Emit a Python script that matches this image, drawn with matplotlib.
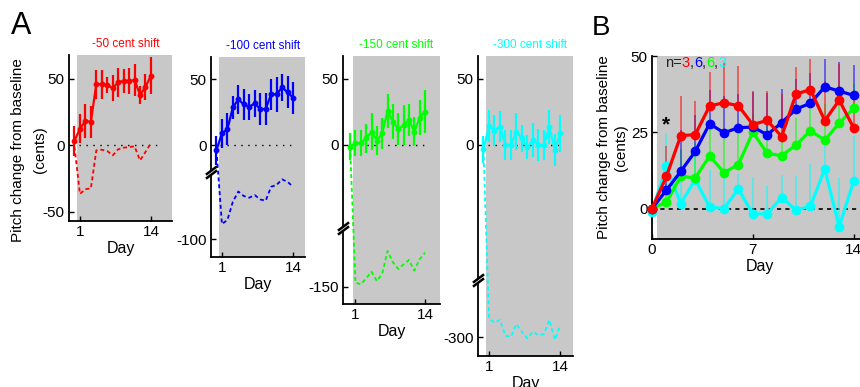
import numpy as np
import matplotlib
matplotlib.use("Agg")
import matplotlib.pyplot as plt
import matplotlib.transforms as mtrans

plt.rcParams['font.family'] = ['Liberation Sans', 'DejaVu Sans']
plt.rcParams['xtick.direction'] = 'in'
plt.rcParams['ytick.direction'] = 'in'
plt.rcParams['xtick.major.size'] = 3.5
plt.rcParams['ytick.major.size'] = 3.5
plt.rcParams['axes.linewidth'] = 1.3

# ---------------- data (panel A) ----------------
days = list(range(0, 15))

shift_titles = ["-50 cent shift", "-100 cent shift", "-150 cent shift", "-300 cent shift"]
colors = ["#ff0000", "#0000ff", "#00ff00", "#00ffff"]

red_mean = [3.3, 12.6, 18.2, 17.7, 46.0, 46.0, 45.5, 43.0, 47.5, 48.5, 48.5, 49.0, 38.0, 44.0, 52.5]
red_err = [11, 11, 13, 12, 11, 11, 6, 10, 11, 9, 10, 12, 7, 10, 14]
red_heard = [-1, -36.6, -33.0, -32.5, -3.8, -3.3, -4.3, -7.6, -3.0, -1.8, -1.3, -0.8, -11.4, -5.0, 1.8]

blue_mean = [-3.8, 8.8, 12.0, 28.5, 34.6, 30.8, 29.0, 31.6, 27.3, 27.3, 38.4, 38.4, 43.7, 40.0, 35.9]
blue_err = [11, 11, 12, 9, 11, 12, 10, 10, 12, 12, 12, 13, 10, 12, 12]
blue_heard = [-3.8, -88.6, -85.6, -71.7, -64.0, -67.4, -68.7, -66.7, -70.0, -71.0, -60.4, -59.0, -54.8, -56.6, -60.4]

green_mean = [-1.3, 1.3, 1.3, 5.0, 10.0, 3.3, 8.8, 25.8, 17.7, 11.9, 15.0, 19.0, 10.0, 20.7, 25.3]
green_err = [10, 10, 10, 11, 14, 11, 12, 13, 13, 12, 15, 12, 11, 13, 16]
green_heard = [-1.3, -146.7, -148.0, -143.4, -138.4, -145.5, -140.0, -122.7, -131.3, -136.4, -132.8, -129.5, -137.6, -129.0, -124.0]

cyan_mean = [-3.3, 14.4, 10.9, 13.9, 0.0, 0.0, 10.0, 5.0, -1.8, 3.8, 0.0, 0.0, 13.4, -3.8, 8.8]
cyan_err = [10, 12, 12, 12, 11, 11, 14, 10, 9, 13, 12, 11, 13, 12, 14]
cyan_heard = [-3.3, -285.9, -289.0, -287.0, -299.0, -299.7, -290.0, -296.0, -301.0, -296.0, -298.5, -297.7, -287.0, -302.0, -291.0]

means = [red_mean, blue_mean, green_mean, cyan_mean]
errs = [red_err, blue_err, green_err, cyan_err]
heards = [red_heard, blue_heard, green_heard, cyan_heard]
low_ticks = [-50, -100, -150, -300]

# ---------------- data (panel B) ----------------
days_b = list(range(0, 15))
b_red = [0, 10.5, 23.9, 24.2, 33.6, 34.7, 33.7, 27.5, 28.9, 23.6, 37.5, 39.0, 28.8, 35.5, 26.5]
b_blue = [0, 6.0, 12.2, 18.7, 27.8, 24.8, 26.5, 26.7, 24.2, 28.1, 32.6, 34.5, 39.9, 38.5, 37.1]
b_green = [0, 2.0, 10.6, 10.0, 17.2, 11.8, 14.4, 25.0, 18.1, 17.3, 20.8, 25.5, 22.4, 28.0, 32.8]
b_cyan = [-1, 13.8, 1.6, 9.5, 0.5, 0.0, 6.4, -1.8, -1.7, 3.6, -0.5, 0.7, 13.0, -6.0, 8.9]
b_red_up = [12, 10, 13, 11, 11, 13, 13, 11, 9.5, 14, 9, 10, 13, 12, 10]
b_blue_up = [8, 8, 13.5, 12, 11, 12, 11, 11.6, 13.6, 11.2, 10, 10, 9, 9.5, 10]
b_green_up = [5, 6, 9, 11.5, 12, 11, 10, 6, 12, 12, 9, 9.6, 12, 12.5, 8]
b_cyan_up = [5, 11, 7, 10, 12, 12, 5, 12, 9, 7.5, 11, 14, 10.5, 16, 15]
n_birds = [3, 6, 6, 3]

GRAY = '#c8c8c8'
W, H = 860, 387
fig = plt.figure(figsize=(W / 100, H / 100), dpi=100)


def add_ax(left, top, right, bottom):
    return fig.add_axes([left / W, 1 - bottom / H, (right - left) / W, (bottom - top) / H])


def broken_scale(b, skip):
    def fwd(v):
        v = np.asarray(v, dtype=float)
        return np.where(v >= b, v, np.where(v <= b - skip, v + skip, b))

    def inv(d):
        d = np.asarray(d, dtype=float)
        return np.where(d >= b, d, d - skip)
    return fwd, inv


# panel geometry (pixels) and y-ranges in displayed units
geo = [(69, 55, 172, 221), (211, 57, 305, 257), (343, 56, 440, 304), (478, 56, 573, 356)]
xlims = [(-1.0, 17.85), (-1.0, 16.2), (-1.33, 16.8), (-1.0, 16.3)]
gray_start = [0.5, 0.5, 0.5, 0.4]
tops = [68, 66.7, 67.4, 67.4]
bottoms = [-57, -84.8, -120.5, -159.8]
breaks = [None, (-20.5, 28.8), (-62.9, 42.4), (-102.3, 154.5)]

for i in range(4):
    ax = add_ax(*geo[i])
    c = colors[i]
    ax.set_facecolor('white')
    for s in ('top', 'right'):
        ax.spines[s].set_visible(False)
    ax.set_xlim(*xlims[i])
    if breaks[i] is None:
        ax.set_ylim(bottoms[i], tops[i])
    else:
        b, skip = breaks[i]
        ax.set_yscale('function', functions=broken_scale(b, skip))
        ax.set_ylim(bottoms[i] - skip, tops[i])
    ax.axvspan(gray_start[i], xlims[i][1], color=GRAY, lw=0, zorder=0)
    ax.axhline(0, xmin=0.1, xmax=0.85, color='k', lw=1.0, ls=(0, (1, 4)), zorder=1)
    ax.plot(days, heards[i], color=c, lw=1.3, ls=(0, (2.2, 1.6)), zorder=2)
    ax.errorbar(days, means[i], yerr=errs[i], color=c, lw=1.6, elinewidth=1.6,
                marker='o', ms=3.2, capsize=0, zorder=3)
    ax.set_yticks([50, 0, low_ticks[i]])
    ax.set_yticklabels(['50', '0', str(low_ticks[i])])
    ax.set_xticks([1, 14])
    ax.tick_params(labelsize=11, pad=3, width=1)
    ax.set_xlabel('Day', fontsize=11.5, labelpad=1)
    x0, y0, x1, y1 = geo[i]
    ax.text(0.55, 1 + 11 / (y1 - y0), shift_titles[i], color=c, fontsize=8.5,
            ha='center', va='center', transform=ax.transAxes)
    if breaks[i] is not None:
        b = breaks[i][0]
        base = ax.get_yaxis_transform()
        mk = [(-1, -0.75), (1, 0.75)]
        for dy, col, mw in ((0, 'white', 3.5), (2.0, 'k', 1.8), (-2.0, 'k', 1.8)):
            tr = base + mtrans.ScaledTranslation(0, dy / 100, fig.dpi_scale_trans)
            ax.plot([0], [b], transform=tr, marker=mk, ms=8, mew=mw, mec=col,
                    ls='none', clip_on=False, zorder=5)

fig.text(18 / W, 1 - 150 / H, "Pitch change from baseline", rotation=90,
         ha='center', va='center', fontsize=11)
fig.text(40 / W, 1 - 150 / H, "(cents)", rotation=90,
         ha='center', va='center', fontsize=11)
fig.text(11 / W, 1 - 34 / H, 'A', fontsize=22, va='baseline', ha='left')

# ---------------- panel B ----------------
axb = add_ax(652, 56, 868, 239)
axb.set_xlim(0, 15)
axb.set_ylim(-10, 50)
for s in ('top', 'right'):
    axb.spines[s].set_visible(False)
axb.axvspan(0.35, 15, color=GRAY, lw=0, zorder=0)
axb.axhline(0, color='k', lw=1.2, ls=(0, (2.5, 2.5)), zorder=1)
b_means = [b_cyan, b_green, b_blue, b_red]
b_ups = [b_cyan_up, b_green_up, b_blue_up, b_red_up]
b_cols = [colors[3], colors[2], colors[1], colors[0]]
for m, u, c in zip(b_means, b_ups, b_cols):
    axb.vlines(days_b, m, np.asarray(m) + np.asarray(u), color=c, lw=1.3, alpha=0.55, zorder=2)
for m, c in zip(b_means, b_cols):
    axb.plot(days_b, m, color=c, lw=2.3, marker='o', ms=6, zorder=3, clip_on=False)
axb.set_yticks([0, 25, 50])
axb.set_xticks([0, 7, 14])
axb.tick_params(labelsize=11, pad=3, width=1)
axb.set_xlabel('Day', fontsize=11.5, labelpad=1)
axb.set_ylabel("Pitch change from baseline\n(cents)", fontsize=11, linespacing=1.3, labelpad=2)
axb.text(0.95, 27.5, '*', fontsize=15, fontweight='bold', ha='center', va='center')

# multicolour n= label
parts = [('n=', '#222222'), (str(n_birds[0]), colors[0]), (',', '#222222'),
         (str(n_birds[1]), colors[1]), (',', '#222222'), (str(n_birds[2]), colors[2]),
         (',', '#222222'), (str(n_birds[3]), colors[3])]
renderer = fig.canvas.get_renderer()
t = axb.transAxes
for s, c in parts:
    txt = axb.text(0.06, 0.962, s, color=c, transform=t, fontsize=10.5, va='center', ha='left')
    txt.draw(renderer)
    ex = txt.get_window_extent(renderer)
    t = mtrans.offset_copy(txt.get_transform(), x=ex.width, units='dots')

fig.text(592 / W, 1 - 35 / H, 'B', fontsize=20, va='baseline', ha='left')

fig.savefig('out.png', dpi=100)
